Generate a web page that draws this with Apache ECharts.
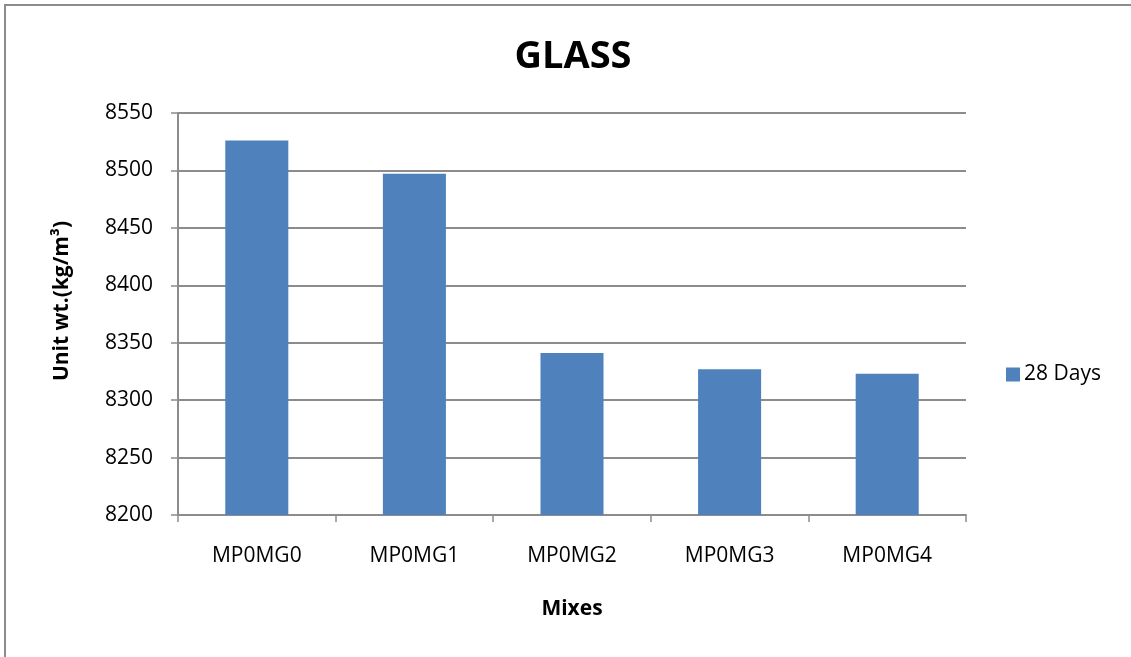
<!DOCTYPE html>
<html>
<head>
<meta charset="utf-8">
<script src="https://cdn.jsdelivr.net/npm/echarts@6/dist/echarts.min.js"></script>
<style>
  html, body { margin: 0; padding: 0; background: #fff; }
  #chart { width: 1131px; height: 657px; }
</style>
</head>
<body>
<div id="chart"></div>
<script>
// Unit weight of glass mixes at 28 days
const mixes = ['MP0MG0', 'MP0MG1', 'MP0MG2', 'MP0MG3', 'MP0MG4'];
const days28 = [8526, 8497, 8341, 8327, 8323];
const seriesName = '28 Days';

const font = '"Open Sans", Lato, sans-serif';
const gridColor = '#8c8c8c';

const chart = echarts.init(document.getElementById('chart'), null, { renderer: 'canvas' });
chart.setOption({
  backgroundColor: '#fff',
  animation: false,
  title: {
    text: 'GLASS',
    left: 568,
    top: 33,
    textAlign: 'center',
    textStyle: { fontFamily: font, fontSize: 38, fontWeight: 'bold', color: '#000' }
  },
  legend: {
    data: [seriesName],
    orient: 'vertical',
    left: 1001,
    top: 359,
    itemWidth: 14,
    itemHeight: 14,
    itemGap: 6,
    icon: 'rect',
    textStyle: { fontFamily: font, fontSize: 21, color: '#000', padding: [0, 0, 0, -1] }
  },
  grid: { left: 178, right: 165, top: 113, bottom: 142, containLabel: false },
  xAxis: {
    type: 'category',
    data: mixes,
    name: 'Mixes',
    nameLocation: 'middle',
    nameGap: 84,
    nameTextStyle: { fontFamily: font, fontSize: 21, fontWeight: 'bold', color: '#000' },
    axisLine: { lineStyle: { color: gridColor, width: 2 } },
    axisTick: { show: true, length: 7, lineStyle: { color: gridColor, width: 1.5 } },
    axisLabel: { fontFamily: font, fontSize: 21, color: '#000', margin: 31 }
  },
  yAxis: {
    type: 'value',
    min: 8200,
    max: 8550,
    interval: 50,
    name: 'Unit wt.(kg/m³)',
    nameLocation: 'middle',
    nameGap: 105,
    nameTextStyle: { fontFamily: font, fontSize: 21, fontWeight: 'bold', color: '#000', padding: [0, 0, 0, 26] },
    axisLine: { show: true, lineStyle: { color: gridColor, width: 2 } },
    axisTick: { show: true, length: 7, lineStyle: { color: gridColor, width: 1.5 } },
    axisLabel: { fontFamily: font, fontSize: 21, color: '#000', margin: 25, formatter: v => String(v) },
    splitLine: { show: true, lineStyle: { color: gridColor, width: 2 } }
  },
  series: [{
    name: seriesName,
    type: 'bar',
    data: days28,
    barWidth: '40%',
    itemStyle: { color: '#4F81BD' }
  }],
  graphic: [{
    type: 'polyline',
    shape: { points: [[5, 700], [5, 5], [1200, 5]] },
    style: { stroke: '#8c8c8c', lineWidth: 2, fill: null },
    silent: true
  }]
});
</script>
</body>
</html>
